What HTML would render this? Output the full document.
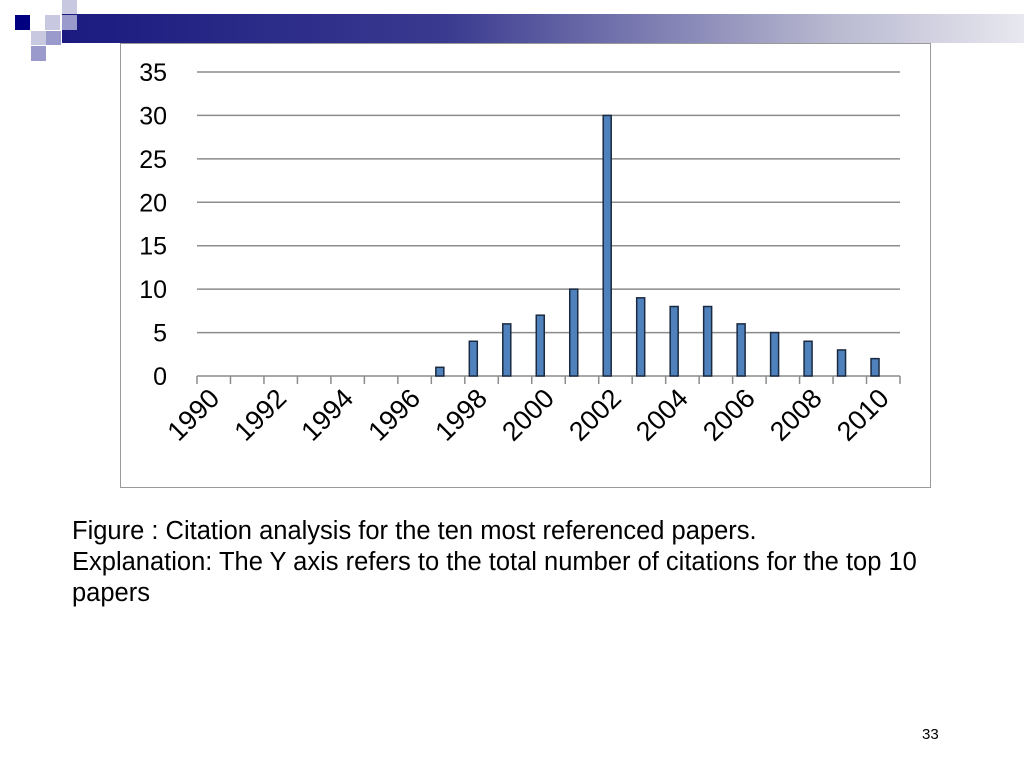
<!DOCTYPE html>
<html><head><meta charset="utf-8"><style>
body{margin:0;width:1024px;height:768px;background:#fff;position:relative;overflow:hidden;font-family:"Liberation Sans",sans-serif}
.sq{position:absolute}
</style></head><body>
<div class="sq" style="left:62px;top:14px;width:962px;height:29px;background:linear-gradient(90deg,#1a1a80 0%,#3a3a90 40%,#b8b8d0 80%,#e8e8f0 100%)"></div>
<div class="sq" style="left:15px;top:15px;width:15px;height:15px;background:#000080"></div>
<div class="sq" style="left:45px;top:15px;width:15px;height:15px;background:#c8c8e0"></div>
<div class="sq" style="left:62px;top:0px;width:15px;height:14px;background:#c8c8e0"></div>
<div class="sq" style="left:62px;top:15px;width:15px;height:15px;background:#9a9acc"></div>
<div class="sq" style="left:31px;top:31px;width:15px;height:14px;background:#c8c8e0"></div>
<div class="sq" style="left:46px;top:31px;width:15px;height:14px;background:#9a9acc"></div>
<div class="sq" style="left:31px;top:46px;width:15px;height:15px;background:#9a9acc"></div>
<div class="sq" style="left:120px;top:43px;width:809px;height:443px;border:1px solid #999;background:#fff"></div>
<svg width="1024" height="768" style="position:absolute;left:0;top:0" id="chart"></svg>
<div style="position:absolute;left:72px;top:516px;width:870px;font-size:25.5px;line-height:31px;color:#000">Figure : Citation analysis for the ten most referenced papers.<br>Explanation: The Y axis refers to the total number of citations for the top 10 papers</div>
<div style="position:absolute;left:922px;top:726px;font-size:15px;color:#000">33</div>
<script>
const years=[1990,1991,1992,1993,1994,1995,1996,1997,1998,1999,2000,2001,2002,2003,2004,2005,2006,2007,2008,2009,2010];
const citations=[0,0,0,0,0,0,0,1,4,6,7,10,30,9,8,8,6,5,4,3,2];
const yTicks=[0,5,10,15,20,25,30,35];
const svg=document.getElementById('chart');
const NS='http://www.w3.org/2000/svg';
const x0=197,x1=900,y0=376,y1=72,yMax=35;
const step=(x1-x0)/years.length;
const xs=i=>x0+i*step;
const ys=v=>y0-(v/yMax)*(y0-y1);
function mk(t,a){const e=document.createElementNS(NS,t);for(const k in a)e.setAttribute(k,a[k]);svg.appendChild(e);return e;}
yTicks.forEach(v=>{
 const l=mk('line',{x1:x0,x2:x1,y1:ys(v),y2:ys(v),stroke:'#8c8c8c','stroke-width':1.5});
 
 
 const t=mk('text',{x:167,y:ys(v)+9,'text-anchor':'end','font-size':25,fill:'#000','font-family':'Liberation Sans, sans-serif'});
 t.textContent=v;
 
 
});
for(let i=0;i<=years.length;i++){
 const l=mk('line',{x1:xs(i),x2:xs(i),y1:y0,y2:y0+8,stroke:'#8c8c8c','stroke-width':1.5});
 
 
}
years.forEach((yr,i)=>{
 const v=citations[i];
 if(v>0){
  const cx=xs(i)+8.5;
  const r=mk('rect',{x:cx-4,y:ys(v),width:8,height:y0-ys(v),fill:'#4f81bd',stroke:'#1a2a40','stroke-width':1.5});
  
  
 }
 if(i%2===0){
  const tx=xs(i)+24,ty=400;
  const t=mk('text',{x:tx,y:ty,'text-anchor':'end','font-size':27,fill:'#000','font-family':'Liberation Sans, sans-serif',transform:'rotate(-45 '+tx+' '+ty+')'});
  t.textContent=yr;
  
  
 }
});
</script>
</body></html>
